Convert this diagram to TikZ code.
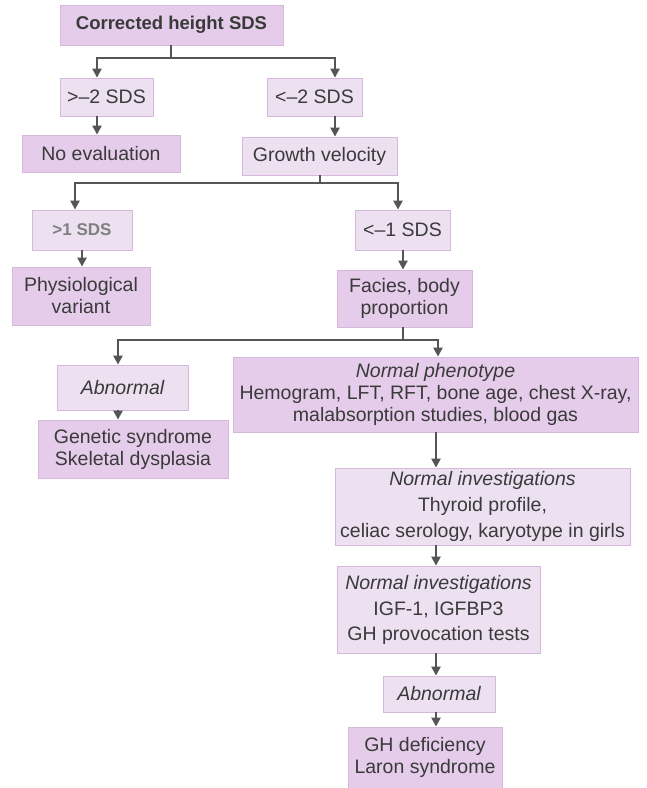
\documentclass[tikz,border=0pt]{standalone}
\usepackage{fontspec}
\setmainfont{Liberation Sans}
\usetikzlibrary{arrows.meta}
\definecolor{boxA}{HTML}{E5CCEA}
\definecolor{boxB}{HTML}{ECE0F1}
\definecolor{edgeA}{HTML}{D6B8DC}
\definecolor{txt}{HTML}{3A3A3A}
\definecolor{ln}{HTML}{555555}
\begin{document}
\begin{tikzpicture}[x=1pt,y=-1pt,
  bx/.style={fill=boxA,draw=edgeA,line width=0.8pt,text=txt,align=center,inner sep=0pt,
    font=\fontsize{19.5}{22}\selectfont},
  bl/.style={bx,fill=boxB},
  ln/.style={draw=ln,line width=2.4pt},
  ar/.style={ln,-{Triangle[length=9pt,width=9pt]}}]
\useasboundingbox (0,0) rectangle (647,788);
\fill[white] (0,0) rectangle (647,788);
\node[bx,minimum width=223,minimum height=40,font=\fontsize{18.5}{22}\selectfont\bfseries] (top) at (171.5,25) {Corrected height SDS};
\node[bl,minimum width=93,minimum height=38] (gt2) at (106.5,97) {>–2 SDS};
\node[bl,minimum width=95,minimum height=38] (lt2) at (314.5,97) {<–2 SDS};
\node[bx,minimum width=158,minimum height=37] (noeval) at (101,153.5) {No evaluation};
\node[bl,minimum width=155,minimum height=38] (gv) at (319.5,156) {Growth velocity};
\node[bl,minimum width=100,minimum height=40,text=gray,font=\fontsize{17}{22}\selectfont\bfseries] (gt1) at (82,230) {>1 SDS};
\node[bl,minimum width=95,minimum height=40] (lt1) at (402.5,230) {<–1 SDS};
\node[bx,minimum width=138,minimum height=58] (phys) at (81,296) {Physiological\\variant};
\node[bx,minimum width=135,minimum height=57] (facies) at (404.5,298.5) {Facies, body\\proportion};
\node[bl,minimum width=131,minimum height=45] (abn) at (122.5,387.5) {\itshape Abnormal};
\node[bx,minimum width=190,minimum height=58] (gen) at (133,449) {Genetic syndrome\\Skeletal dysplasia};
\node[bx,minimum width=405,minimum height=75] (np) at (435.5,394.5) {\itshape Normal phenotype\\Hemogram, LFT, RFT, bone age, chest X-ray,\\malabsorption studies, blood gas};
\node[bl,minimum width=295,minimum height=77] (ni1) at (482.5,506.5) {\itshape Normal investigations\\[4pt]Thyroid profile,\\[4pt]celiac serology, karyotype in girls};
\node[bl,minimum width=203,minimum height=87] (ni2) at (438.5,609.5) {\itshape Normal investigations\\[4pt]IGF-1, IGFBP3\\[3pt]GH provocation tests};
\node[bl,minimum width=112,minimum height=36] (abn2) at (439,694) {\itshape Abnormal};
\node[bx,minimum width=154,minimum height=61] (gh) at (425,757.5) {GH deficiency\\Laron syndrome};
% x positions of the vertical connectors
\coordinate (xa) at (97,0);
\coordinate (xb) at (335,0);
\coordinate (xc) at (75,0);
\coordinate (xd) at (82,0);
\coordinate (xe) at (398,0);
\coordinate (xf) at (403,0);
\coordinate (xg) at (118,0);
\coordinate (xh) at (438,0);
\coordinate (xi) at (436,0);
% level 1
\coordinate (j1) at (171,58);
\draw[ln] (top.south -| j1) -- (j1);
\draw[ar] (j1) -| (gt2.north -| xa);
\draw[ar] (j1) -| (lt2.north -| xb);
\draw[ar] (gt2.south -| xa) -- (noeval.north -| xa);
\draw[ar] (lt2.south -| xb) -- (gv.north -| xb);
% level 2
\coordinate (j2) at (320,183);
\draw[ln] (gv.south -| j2) -- (j2);
\draw[ar] (j2) -| (gt1.north -| xc);
\draw[ar] (j2) -| (lt1.north -| xe);
\draw[ar] (gt1.south -| xd) -- (phys.north -| xd);
\draw[ar] (lt1.south -| xf) -- (facies.north -| xf);
% level 3
\coordinate (j3) at (403,340);
\draw[ln] (facies.south -| j3) -- (j3);
\draw[ar] (j3) -| (abn.north -| xg);
\draw[ar] (j3) -| (np.north -| xh);
\draw[ar] (abn.south -| xg) -- (gen.north -| xg);
\draw[ar] (np.south -| xi) -- (ni1.north -| xi);
\draw[ar] (ni1.south -| xi) -- (ni2.north -| xi);
\draw[ar] (ni2.south -| xi) -- (abn2.north -| xi);
\draw[ar] (abn2.south -| xi) -- (gh.north -| xi);
\end{tikzpicture}
\end{document}
